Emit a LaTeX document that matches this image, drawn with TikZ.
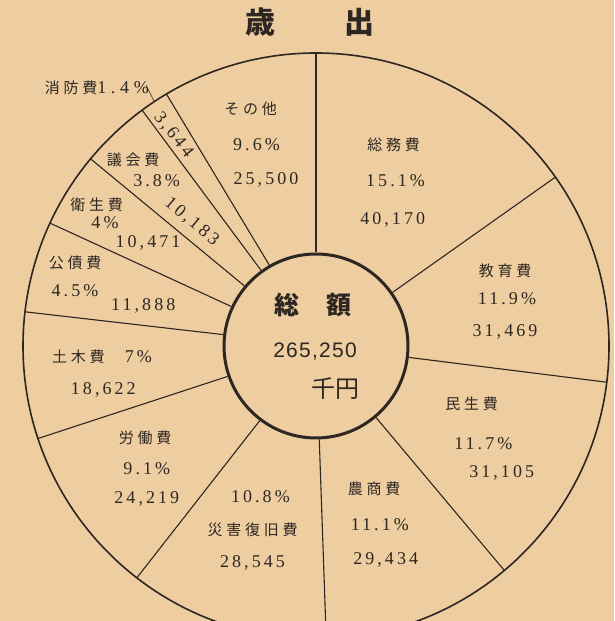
\documentclass[tikz,border=0pt]{standalone}
\usepackage{fontspec}
\setmainfont{Liberation Serif}
\newfontfamily\jp[LetterSpace=25]{Noto Sans CJK JP}
\newfontfamily\jpbig{Noto Sans CJK JP}
\newfontfamily\num[LetterSpace=17]{Liberation Serif}
\newfontfamily\numwide[LetterSpace=26]{Liberation Serif}
\newfontfamily\bignum[LetterSpace=6]{Liberation Sans}
\usetikzlibrary{positioning,calc}
\definecolor{paper}{RGB}{238,206,160}
\definecolor{ink}{RGB}{45,38,34}

\tikzset{
  item/.style={font=\jp\fontsize{15}{15}\selectfont, text=ink, inner sep=0pt},
  val/.style={font=\num\fontsize{18}{18}\selectfont, text=ink, inner sep=0pt},
  cut/.style={draw=ink, line width=1.1pt},
}

\begin{document}
\begin{tikzpicture}[x=1pt,y=1pt]
  \clip (0,0) rectangle (614,621);
  \fill[paper] (0,0) rectangle (614,621);

  \node[font=\jpbig\bfseries\fontsize{30}{30}\selectfont, text=ink] (title) at (309.5,599) {歳\hspace{69pt}出};

  % total in the middle
  \node[circle, draw=ink, line width=3pt, minimum size=184pt] (tot) at (316,275) {};
  \draw[ink, line width=1.6pt] (tot.center) circle (293);
  \foreach \a in {90,35.2,-7.1,-50,-88,-127.7,-161.6,173.3,155.2,140.3,126.4,120.7}
    \draw[cut] (tot.\a) -- ($(tot.center)+(\a:293)$);

  \node[font=\jpbig\bfseries\fontsize{25}{25}\selectfont, text=ink] (sou) at (313,316) {総\hspace{27pt}額};
  \node[font=\bignum\fontsize{21}{21}\selectfont, text=ink] (gaku) at (315,269.3) {265,250};
  \node[font=\jpbig\fontsize{24}{24}\selectfont, text=ink] (yen) at (335,232.7) {千円};

  % slices
  \node[item] (somu) at (393.5,476) {総務費};
  \node[val] (somup) at (395.5,440) {15.1\%};
  \node[val] (somuv) at (392.7,401) {40,170};

  \node[item] (kyo) at (505,350) {教育費};
  \node[val] (kyop) at (507,322.7) {11.9\%};
  \node[val] (kyov) at (505,289.3) {31,469};

  \node[item] (min) at (471.7,217) {民生費};
  \node[val] (minp) at (483.3,177.7) {11.7\%};
  \node[val] (minv) at (501.7,147.7) {31,105};

  \node[item] (nou) at (374,131.7) {農商費};
  \node[val] (noup) at (379.8,96) {11.1\%};
  \node[val] (nouv) at (385.7,61) {29,434};

  \node[val] (saip) at (260.4,124.3) {10.8\%};
  \node[item] (sai) at (252.5,91) {災害復旧費};
  \node[val] (saiv) at (252.5,57.7) {28,545};

  \node[item] (rou) at (145,183) {労働費};
  \node[val] (roup) at (146.8,152.7) {9.1\%};
  \node[val] (rouv) at (146.8,121.7) {24,219};

  \node[item] (doboku) at (78.3,264.3) {土木費};
  \node[val] (dobokup) at (138.3,264.3) {7\%};
  \node[val] (dobokuv) at (103.3,231) {18,622};

  \node[item] (kousai) at (75,357.7) {公債費};
  \node[val] (kousaip) at (75,330) {4.5\%};
  \node[val] (kousaiv) at (143.3,315) {11,888};

  \node[item] (eisei) at (96.7,416) {衛生費};
  \node[val] (eiseip) at (105,398) {4\%};
  \node[val] (eiseiv) at (148,377.7) {10,471};

  \node[item] (gikai) at (133,461) {議会費};
  \node[val] (gikaip) at (156.6,440.3) {3.8\%};
  \node[val, rotate=-40] (gikaiv) at (191.7,399.3) {10,183};

  \node[val, rotate=-52] (shouv) at (173.3,486) {3,644};
  \node[item, anchor=east] (shou) at (149,533) {消防費\numwide\fontsize{18}{18}\selectfont 1.4\%};
  \draw[ink, line width=0.6pt] ($(shou.east)+(-3,3)$) -- ($(tot.center)+(123.5:293)$);

  \node[item] (sono) at (250.6,512) {その他};
  \node[val] (sonop) at (256.5,476) {9.6\%};
  \node[val] (sonov) at (266,441) {25,500};
\end{tikzpicture}
\end{document}
